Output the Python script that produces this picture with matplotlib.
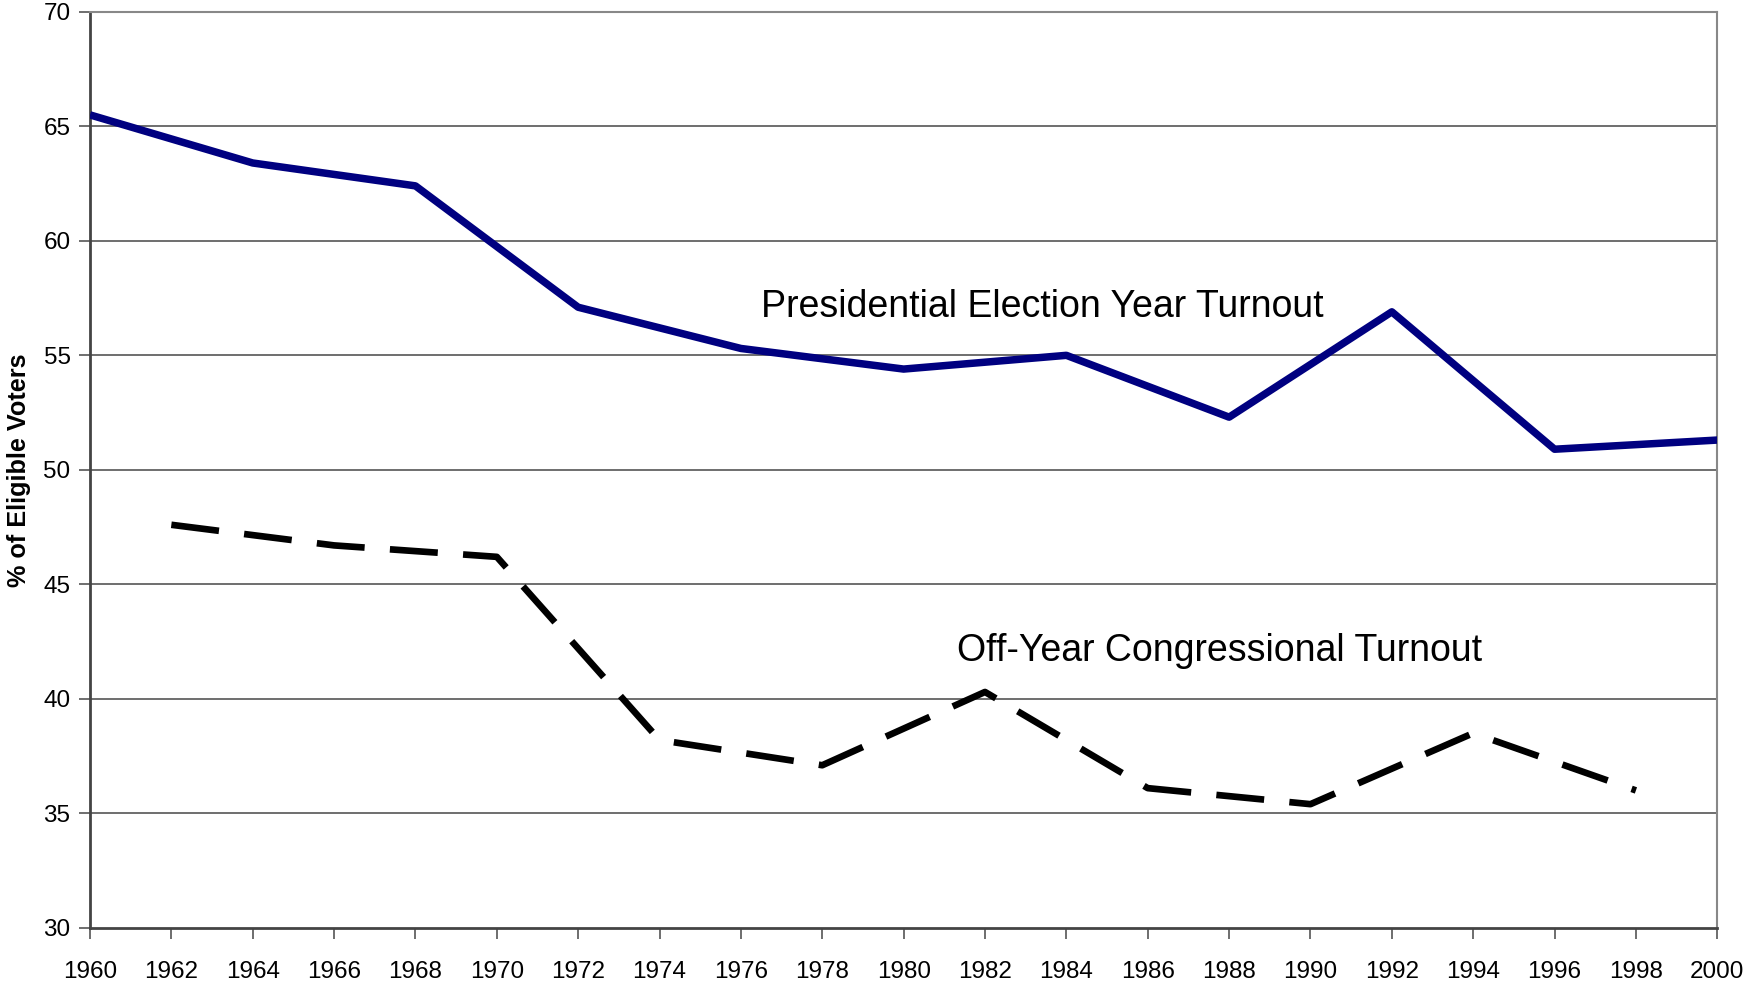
import matplotlib.pyplot as plt

pres_years = [1960, 1964, 1968, 1972, 1976, 1980, 1984, 1988, 1992, 1996, 2000]
pres_turnout = [65.5, 63.4, 62.4, 57.1, 55.3, 54.4, 55.0, 52.3, 56.9, 50.9, 51.3]

off_years = [1962, 1966, 1970, 1974, 1978, 1982, 1986, 1990, 1994, 1998]
off_turnout = [47.6, 46.7, 46.2, 38.2, 37.1, 40.3, 36.1, 35.4, 38.5, 36.0]

x_ticks = list(range(1960, 2001, 2))
y_ticks = list(range(30, 71, 5))

plt.rcParams['font.family'] = ['Liberation Sans', 'DejaVu Sans']

fig = plt.figure(figsize=(17.47, 9.86), dpi=100)
ax = fig.add_axes([0.0515, 0.059, 0.9315, 0.929])

for y in y_ticks[1:]:
    ax.axhline(y, color='#555555', lw=1.2, zorder=1)

ax.plot(pres_years, pres_turnout, color='#000080', lw=5.4, solid_capstyle='butt', zorder=3)
line, = ax.plot(off_years, off_turnout, color='black', lw=4.8, zorder=3)
line.set_dashes((7.2, 3.8))

ax.text(1976.5, 57.1, 'Presidential Election Year Turnout', ha='left', va='center', fontsize=27)
ax.text(1981.3, 42.1, 'Off-Year Congressional Turnout', ha='left', va='center', fontsize=27)

ax.set_xlim(1960, 2000)
ax.set_ylim(30, 70)
ax.set_xticks(x_ticks)
ax.set_yticks(y_ticks)
ax.tick_params(axis='both', labelsize=17.5, length=8, width=1.2, color='#555555')
ax.tick_params(axis='x', pad=16)
ax.tick_params(axis='y', pad=6)

for side in ['left', 'bottom']:
    ax.spines[side].set_color('#444444')
    ax.spines[side].set_linewidth(2)
for side in ['top', 'right']:
    ax.spines[side].set_color('#888888')
    ax.spines[side].set_linewidth(1.5)

ax.set_ylabel('% of Eligible Voters', fontsize=18.2, fontweight='bold', labelpad=9)

fig.savefig('out.png', dpi=100)
